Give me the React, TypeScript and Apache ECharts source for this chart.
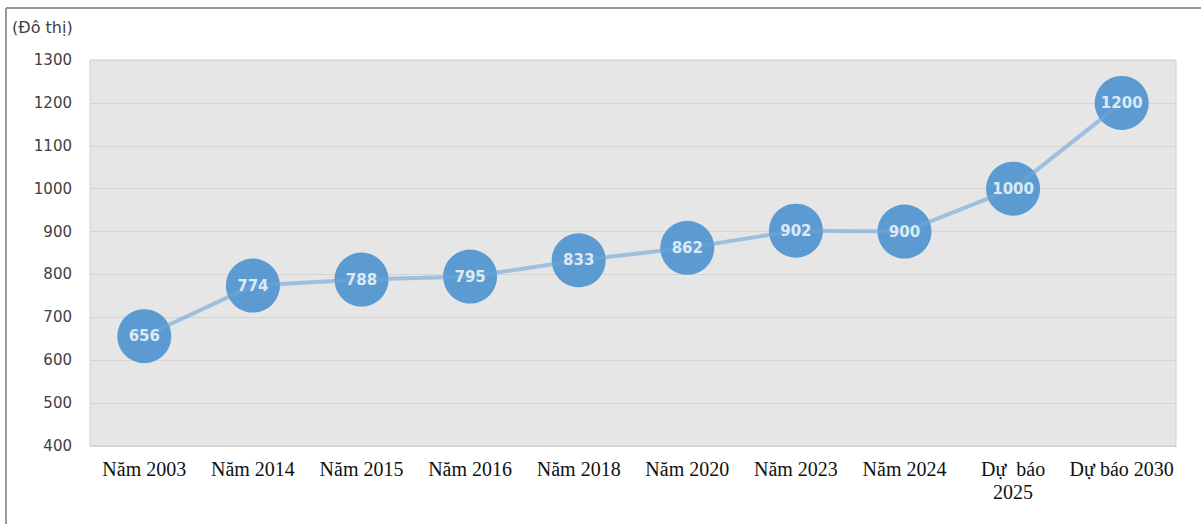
import React, { useEffect, useRef } from "react";
import * as echarts from "echarts";

const categories = ["Năm 2003", "Năm 2014", "Năm 2015", "Năm 2016", "Năm 2018", "Năm 2020", "Năm 2023", "Năm 2024", "Dự  báo\n2025", "Dự báo 2030"];
const values = [656, 774, 788, 795, 833, 862, 902, 900, 1000, 1200];
const unitLabel = "(Đô thị)";

export default function App() {
  const ref = useRef<HTMLDivElement>(null);
  useEffect(() => {
    const chart = echarts.init(ref.current!, null, { renderer: "svg" });
    chart.setOption({
      animation: false,
      grid: {
        left: 90, right: 25, top: 60, bottom: 78,
        show: true, backgroundColor: "#e6e6e6", borderColor: "#cfcfcf", borderWidth: 1,
      },
      graphic: [
        { type: "line", shape: { x1: 6, y1: 8, x2: 1201, y2: 8 }, style: { stroke: "#9a9a9a", lineWidth: 2 } },
        { type: "line", shape: { x1: 6, y1: 8, x2: 6, y2: 524 }, style: { stroke: "#9a9a9a", lineWidth: 2 } },
        { type: "text", left: 12, top: 19, style: { text: unitLabel, fontFamily: "DejaVu Sans", fontSize: 16, fill: "#404040" } },
      ],
      xAxis: {
        type: "category",
        data: categories,
        boundaryGap: true,
        axisTick: { show: false },
        axisLine: { lineStyle: { color: "#cfcfcf" } },
        axisLabel: { fontFamily: "Liberation Serif", fontSize: 20, color: "#111", margin: 11, lineHeight: 23, interval: 0 },
      },
      yAxis: {
        type: "value",
        min: 400, max: 1300, interval: 100,
        axisLine: { show: false },
        axisTick: { show: false },
        splitLine: { lineStyle: { color: "#d4d4d4" } },
        axisLabel: { fontFamily: "DejaVu Sans", fontSize: 15, color: "#404040", margin: 18, formatter: (v: number) => String(v) },
      },
      series: [
        {
          type: "scatter",
          data: values,
          symbol: "circle",
          symbolSize: 54,
          itemStyle: { color: "#5b9bd1", opacity: 1 },
          z: 2,
        },
        {
          type: "line",
          data: values,
          symbol: "none",
          lineStyle: { color: "rgba(110,165,215,0.6)", width: 4 },
          z: 3,
        },
        {
          type: "scatter",
          data: values,
          symbolSize: 1,
          itemStyle: { color: "transparent" },
          z: 4,
          label: {
            show: true, position: "inside", color: "#ffffff", fontWeight: "bold",
            fontFamily: "DejaVu Sans", fontSize: 15,
            formatter: (p: any) => String(p.value),
          },
        },
      ],
    });
    return () => chart.dispose();
  }, []);
  return <div ref={ref} style={{ position: "absolute", left: 0, top: 0, width: 1201, height: 524 }} />;
}
